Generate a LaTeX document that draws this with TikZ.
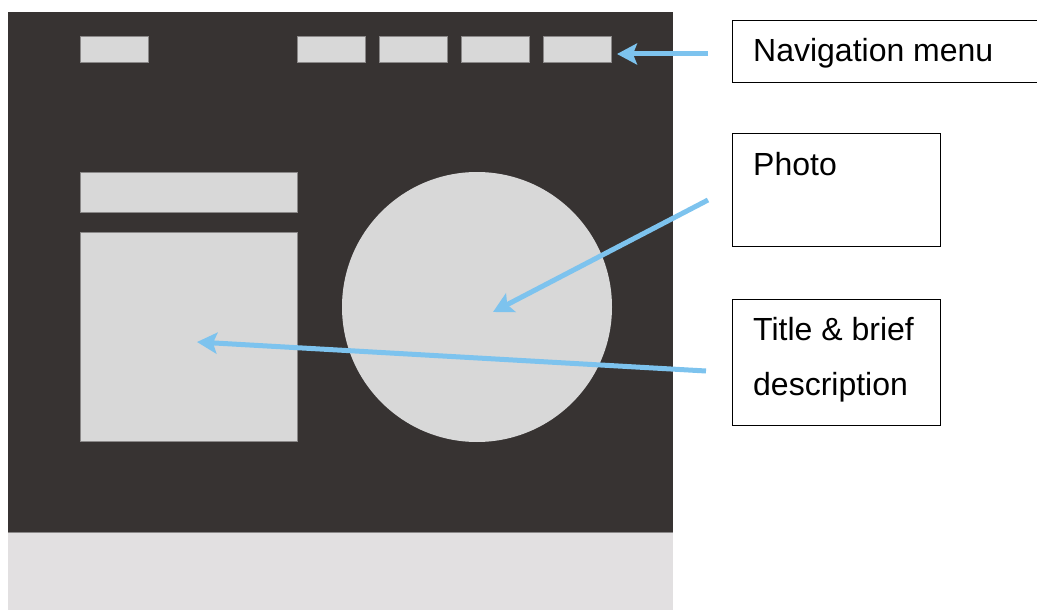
\documentclass[tikz,border=0pt]{standalone}
\usepackage{fontspec}
\setmainfont{Liberation Sans}
\usetikzlibrary{arrows.meta}
\definecolor{darkbg}{HTML}{373332}
\definecolor{footer}{HTML}{E2E0E1}
\definecolor{block}{HTML}{D8D8D8}
\definecolor{blockedge}{HTML}{8A8888}
\definecolor{arrowblue}{HTML}{7DC3EE}
\tikzset{
  block/.style={fill=block, draw=blockedge, line width=1pt},
  label box/.style={draw=black, line width=1pt, fill=white},
  label text/.style={anchor=base west, inner sep=0pt, font=\fontsize{32}{38}\selectfont},
  pointer/.style={draw=arrowblue, line width=5pt, -{Stealth[length=20pt,width=21pt,inset=4pt]}}
}
\begin{document}
\begin{tikzpicture}[x=1pt,y=-1pt]
\useasboundingbox (0,0) rectangle (1037,610);
\clip (0,0) rectangle (1037,610);
% page mockup
\fill[darkbg] (8,12) rectangle (673,532);
\fill[footer] (8,532) rectangle (673,610);
\draw[blockedge, line width=1pt] (8,532) -- (673,532);
% logo and navigation
\draw[block] (80,37) rectangle (148,63);
\draw[block] (297,37) rectangle (365,63);
\draw[block] (379,37) rectangle (447,63);
\draw[block] (461,37) rectangle (529,63);
\draw[block] (543,37) rectangle (611,63);
% title and description
\draw[block] (80,172) rectangle (297,212);
\draw[block] (80,232) rectangle (297,441);
% photo
\draw[block, draw=none] (477,307) circle (135);
% label boxes
\draw[label box] (732,21) rectangle (1040,83);
\draw[label box] (732,133) rectangle (940,246);
\draw[label box] (732,299) rectangle (940,425);
\node[label text] (nav) at (753,62) {Navigation menu};
\node[label text] (photo) at (753,175) {Photo};
\node[label text] (title1) at (753,340) {Title \& brief};
\node[label text] (title2) at (753,395) {description};
% anchors for pointers
\coordinate (navS) at (708,54);
\coordinate (navE) at (617,54);
\coordinate (phS) at (708,200);
\coordinate (phE) at (493,312);
\coordinate (tiS) at (706,371);
\coordinate (tiE) at (197,342);
\draw[pointer] (navS) -- (navE);
\draw[pointer] (phS) -- (phE);
\draw[pointer] (tiS) -- (tiE);
\end{tikzpicture}
\end{document}
